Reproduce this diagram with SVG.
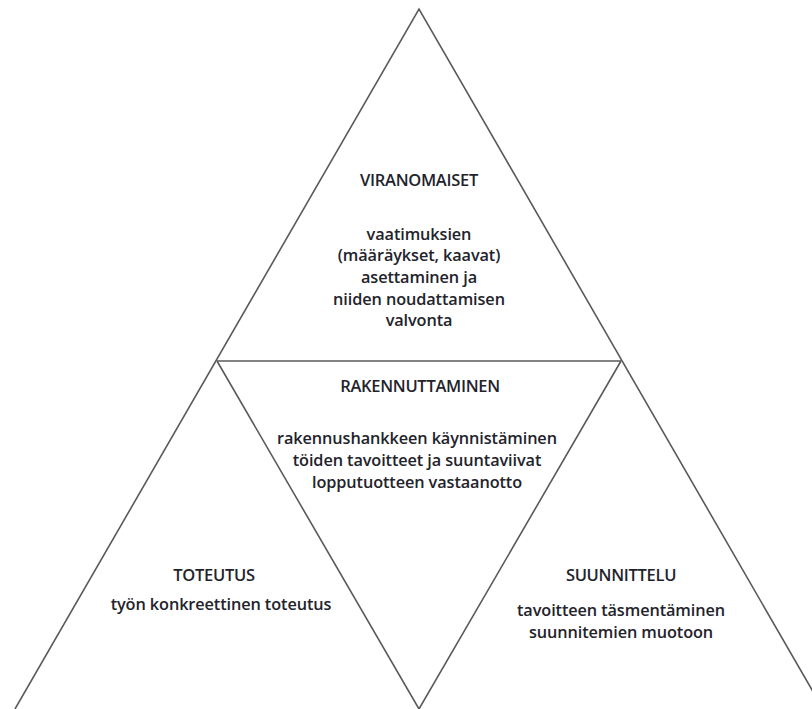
<svg xmlns="http://www.w3.org/2000/svg" width="812" height="709" viewBox="0 0 812 709">
<style>
.ln{stroke:#5a5a5a;stroke-width:1.6;fill:none;stroke-linejoin:miter}
text{font-family:"Open Sans","Noto Sans",sans-serif;fill:#23232b;text-anchor:middle;font-weight:600}
.t{font-size:16.5px;letter-spacing:-0.3px}
.b{font-size:16.3px;letter-spacing:-0.1px}
</style>
<rect width="812" height="709" fill="#fff"/>
<g id="connectors">
<path class="ln" d="M15 709 L419 9 L823 709"/>
<path class="ln" d="M217 361 L621 361"/>
<path class="ln" d="M217 361 L419 709 L621 361"/>
</g>
<g id="viranomaiset">
<text class="t" x="419" y="186">VIRANOMAISET</text>
<text class="b" x="419" y="239.5">vaatimuksien</text>
<text class="b" x="419" y="261.2">(määräykset, kaavat)</text>
<text class="b" x="419" y="282.9">asettaminen ja</text>
<text class="b" x="419" y="304.6">niiden noudattamisen</text>
<text class="b" x="419" y="326.3">valvonta</text>
</g>
<g id="rakennuttaminen">
<text class="t" x="420" y="392">RAKENNUTTAMINEN</text>
<text class="b" x="417" y="443.5">rakennushankkeen käynnistäminen</text>
<text class="b" x="417" y="465.5">töiden tavoitteet ja suuntaviivat</text>
<text class="b" x="417" y="487.5">lopputuotteen vastaanotto</text>
</g>
<g id="toteutus">
<text class="t" x="214" y="581">TOTEUTUS</text>
<text class="b" x="221" y="610">työn konkreettinen toteutus</text>
</g>
<g id="suunnittelu">
<text class="t" x="621" y="581">SUUNNITTELU</text>
<text class="b" x="621" y="615.5">tavoitteen täsmentäminen</text>
<text class="b" x="621" y="637.5">suunnitemien muotoon</text>
</g>
</svg>
